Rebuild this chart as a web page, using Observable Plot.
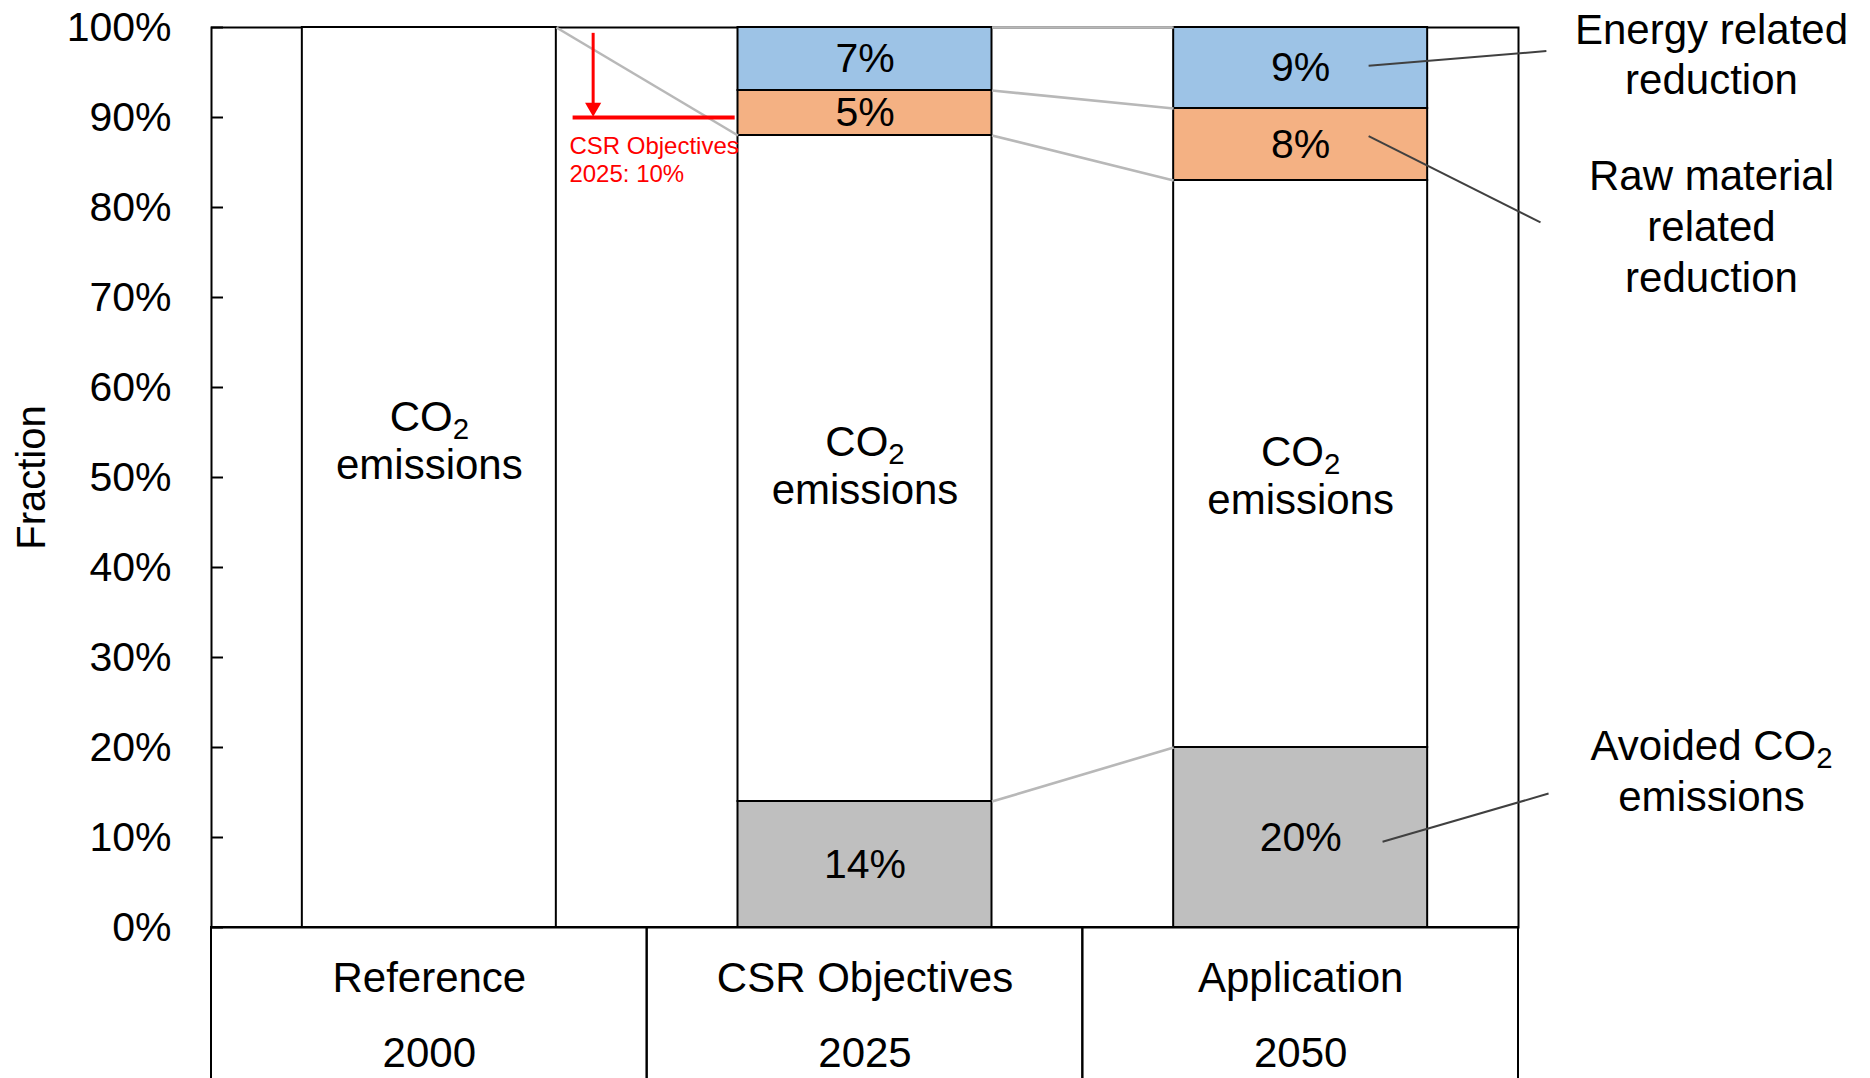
<!DOCTYPE html>
<html><head><meta charset="utf-8">
<script src="https://cdn.jsdelivr.net/npm/d3@7"></script>
<script src="https://cdn.jsdelivr.net/npm/@observablehq/plot@0.6"></script>
<style>
html,body{margin:0;padding:0;background:#fff;}
svg{display:block;}
</style></head><body><div id="chart"></div>
<script>
// ---- data ----
const categories = ["Reference", "CSR Objectives", "Application"];
const years = ["2000", "2025", "2050"];
const series = ["Avoided CO2 emissions", "CO2 emissions", "Raw material related reduction", "Energy related reduction"];
const avoided = [0, 0.14, 0.20];
const co2 = [1.00, 0.74, 0.63];
const rawMaterial = [0, 0.05, 0.08];
const energy = [0, 0.07, 0.09];
const yTicks = [0, 0.1, 0.2, 0.3, 0.4, 0.5, 0.6, 0.7, 0.8, 0.9, 1];
const tickLabels = ["0%", "10%", "20%", "30%", "40%", "50%", "60%", "70%", "80%", "90%", "100%"];
const csrTarget = 0.10;
const sideLabels = ["Energy related\nreduction", "Raw material\nrelated\nreduction", "Avoided CO2\nemissions"];

// ---- layout / styles ----
const W = 1870, H = 1078, mL = 211, mR = 352, mT = 27, mB = 151;
const plotW = W - mL - mR;
const hw = 0.2915; // half bar width in category units
const fills = ["#bfbfbf", "#ffffff", "#f4b183", "#9dc3e6"];
const font = "Liberation Sans, Arial, Helvetica, sans-serif";
const pct = d3.format(".0%");
const co2Nudge = [-38, -4, 11]; // label offsets (px) per bar

const valueTable = [avoided, co2, rawMaterial, energy];
const segments = [];
categories.forEach((c, i) => {
  let base = 0;
  series.forEach((s, k) => {
    const v = valueTable[k][i];
    if (v > 0) segments.push({i, k, series: s, value: v, y1: base, y2: base + v, x1: i - hw, x2: i + hw, fill: fills[k]});
    base += v;
  });
});
const links = [];
for (let i = 0; i < categories.length - 1; i++) {
  series.forEach((s, k) => {
    const a = segments.find(d => d.i === i && d.k === k);
    const b = segments.find(d => d.i === i + 1 && d.k === k);
    if (a && b) links.push({x1: i + hw, x2: i + 1 - hw, y1: a.y2, y2: b.y2});
  });
}
const cells = categories.map((c, i) => ({x1: i - 0.5, x2: i + 0.5, label: c, year: years[i], i}));
const pctRows = segments.filter(d => d.k !== 1).map(d => ({...d, y: (d.y1 + d.y2) / 2, text: pct(d.value)}));
const co2Rows = segments.filter(d => d.k === 1).map(d => ({...d, y: (d.y1 + d.y2) / 2, text: "CO2\nemissions"}));

// annotation anchors (chart units)
const sideY = [0.972, 0.781, 0.1755];
const sideRows = sideLabels.map((t, j) => ({text: t, x: 2.943, y: sideY[j]}));
const leaders = [
  {x1: 2.156, y1: 0.9575, x2: 2.564, y2: 0.9738},
  {x1: 2.156, y1: 0.8793, x2: 2.5505, y2: 0.7834},
  {x1: 2.188, y1: 0.0953, x2: 2.569, y2: 0.1488}
];
const arrowX = 0.376;
const targetLine = [{x1: 0.330, x2: 0.702, y: 1 - csrTarget}];

const co2Marks = co2Nudge.map((n, i) =>
  Plot.text(co2Rows.filter(d => d.i === i), {x: "i", y: "y", text: "text", fontSize: 42, lineHeight: 1.14, dy: n, fill: "#000"}));

const chart = Plot.plot({
  width: W, height: H,
  marginLeft: mL, marginRight: mR, marginTop: mT, marginBottom: mB,
  style: {fontFamily: font, color: "#000", background: "#fff", overflow: "visible"},
  x: {type: "linear", domain: [-0.5, 2.5], axis: null},
  y: {domain: [0, 1], axis: null},
  marks: [
    // category table below the axis
    Plot.rect(cells, {x1: "x1", x2: "x2", y1: -0.2, y2: 0, fill: "none", stroke: "#000", strokeWidth: 2}),
    Plot.frame({stroke: "#000", strokeWidth: 2}),
    Plot.ruleY(yTicks, {stroke: "#000", strokeWidth: 2, insetRight: plotW - 12}),
    Plot.axisY(yTicks, {tickFormat: d => tickLabels[yTicks.indexOf(d)], tickSize: 0, tickPadding: 40, fontSize: 41, label: null}),
    // stacked bars
    Plot.rect(segments, {x1: "x1", x2: "x2", y1: "y1", y2: "y2", fill: "fill", stroke: "#000", strokeWidth: 2}),
    // connectors
    Plot.link(links, {x1: "x1", x2: "x2", y1: "y1", y2: "y2", stroke: "#b8b8b8", strokeWidth: 2.6}),
    // CSR target annotation
    Plot.ruleY(targetLine, {x1: "x1", x2: "x2", y: "y", stroke: "#ff0000", strokeWidth: 4}),
    Plot.ruleX([arrowX], {y1: 0.9935, y2: 1 - csrTarget + 0.012, stroke: "#ff0000", strokeWidth: 3}),
    Plot.dot([arrowX], {x: d => d, y: 1 - csrTarget, symbol: "triangle", rotate: 180, r: 6, dy: -10, fill: "#ff0000", stroke: "none"}),
    Plot.text(["CSR Objectives\n2025: " + pct(csrTarget)], {x: 0.3215, y: 0.854, textAnchor: "start", fontSize: 24, lineHeight: 1.19, fill: "#ff0000"}),
    // labels in bars
    Plot.text(pctRows, {x: "i", y: "y", text: "text", fontSize: 41, fill: "#000"}),
    ...co2Marks,
    // category labels
    Plot.text(cells, {x: "i", y: 0, text: "label", dy: 51, fontSize: 42, fill: "#000"}),
    Plot.text(cells, {x: "i", y: 0, text: "year", dy: 126, fontSize: 42, fill: "#000"}),
    // y label
    Plot.text(["Fraction"], {frameAnchor: "left", textAnchor: "middle", rotate: -90, dx: -179, fontSize: 40, fill: "#000"}),
    // side annotations
    Plot.link(leaders, {x1: "x1", x2: "x2", y1: "y1", y2: "y2", stroke: "#404040", strokeWidth: 2}),
    Plot.text(sideRows, {x: "x", y: "y", text: "text", fontSize: 42, lineHeight: 1.21, fill: "#000"})
  ]
});

// subscript "2" in CO2
const walker = document.createTreeWalker(chart, NodeFilter.SHOW_TEXT);
const hits = [];
while (walker.nextNode()) if (walker.currentNode.nodeValue.includes("CO2")) hits.push(walker.currentNode);
for (const n of hits) {
  const parts = n.nodeValue.split("CO2");
  const frag = document.createDocumentFragment();
  parts.forEach((p, k) => {
    if (k > 0) {
      frag.appendChild(document.createTextNode("CO"));
      const t = document.createElementNS("http://www.w3.org/2000/svg", "tspan");
      t.setAttribute("baseline-shift", "-0.28em");
      t.setAttribute("font-size", "70%");
      t.textContent = "2";
      frag.appendChild(t);
    }
    if (p) frag.appendChild(document.createTextNode(p));
  });
  n.parentNode.replaceChild(frag, n);
}
document.getElementById("chart").appendChild(chart);
</script></body></html>
